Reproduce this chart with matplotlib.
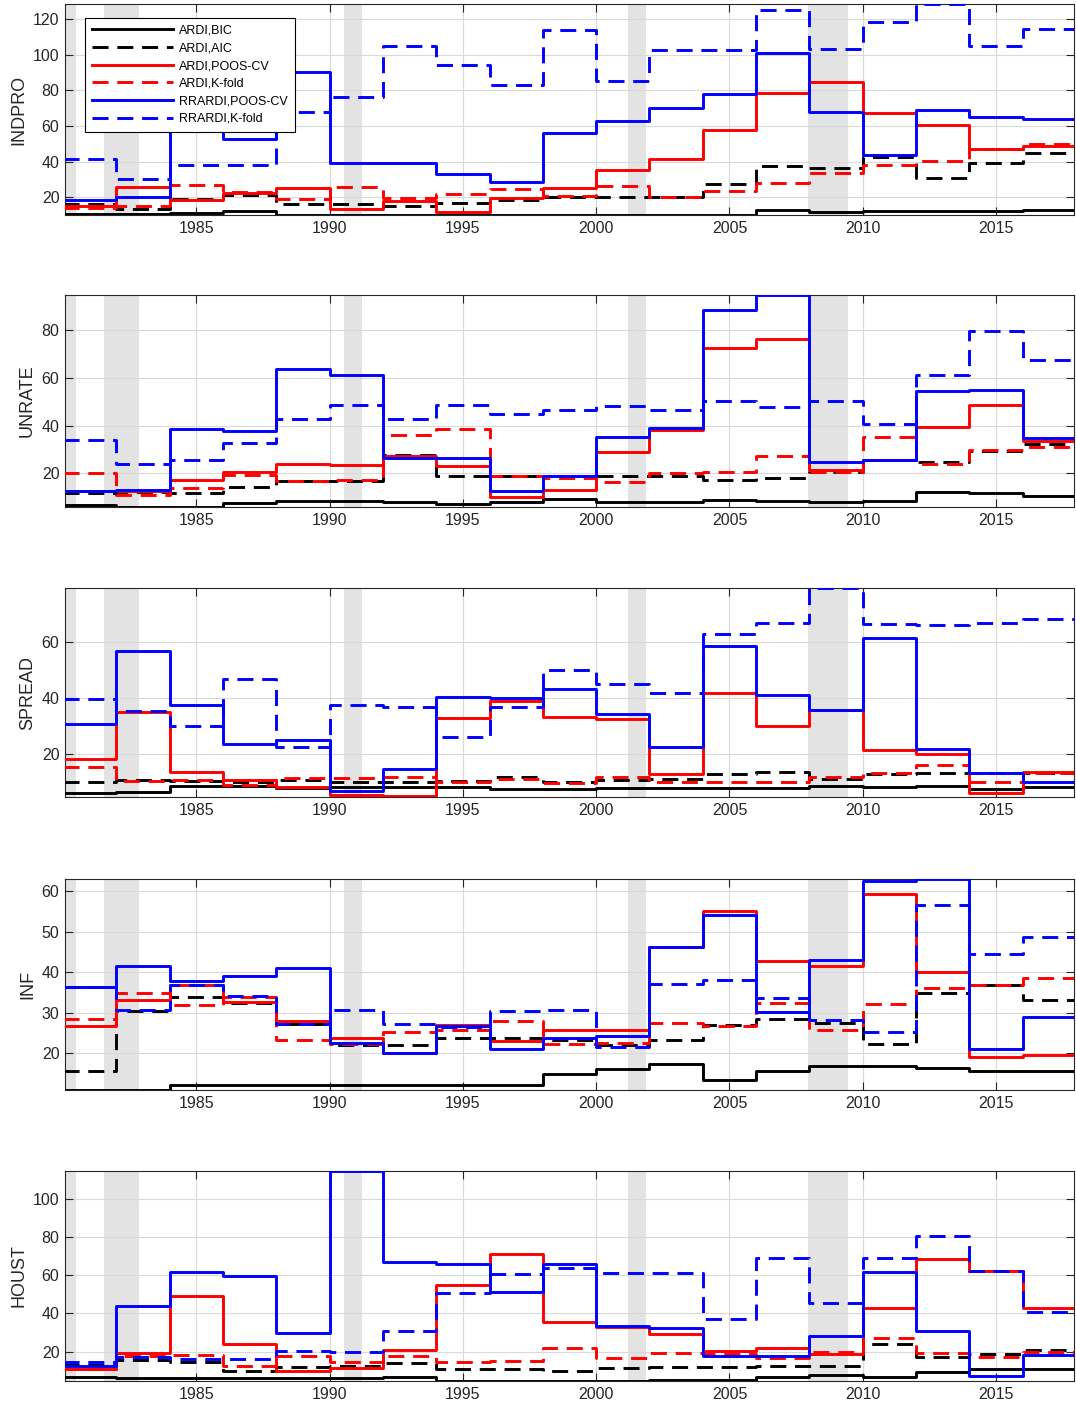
import numpy as np
import matplotlib.pyplot as plt

plt.rcParams['font.family'] = ['Liberation Sans', 'DejaVu Sans']

# block edges: models re-selected every two years
edges = np.arange(1980, 2020, 2)

series_names = ['ARDI,BIC', 'ARDI,AIC', 'ARDI,POOS-CV', 'ARDI,K-fold',
                'RRARDI,POOS-CV', 'RRARDI,K-fold']
panel_names = ['INDPRO', 'UNRATE', 'SPREAD', 'INF', 'HOUST']

# INDPRO
indpro_bic = [10.5, 10.5, 11.0, 12.5, 10.1, 10.1, 10.1, 10.1, 10.1, 10.1, 10.1, 10.1, 10.1, 13.0, 11.5, 12.0, 12.0, 12.0, 12.8]
indpro_aic = [16, 13.5, 19, 21.5, 16, 16, 15, 16.5, 18.5, 20, 20, 20, 27.5, 37.5, 36.5, 42.5, 31, 39, 45]
indpro_poos = [14.8, 25.6, 18.5, 22.5, 25, 13.5, 18, 11.8, 19.5, 25, 35, 41.5, 58, 78.5, 84.5, 67.5, 60.5, 47, 48.5]
indpro_kf = [14, 14.8, 27, 23, 19, 26, 19.5, 21.8, 24.5, 20.4, 26.4, 20, 23.5, 28, 33.5, 38, 40.5, 47.3, 49.8]
indpro_rr_poos = [18.5, 20, 75, 52.5, 90.5, 39, 39.4, 33, 28.8, 56.3, 63, 70.3, 78, 101, 68, 43.7, 69, 65.2, 64]
indpro_rr_kf = [41.5, 30, 38, 38, 68, 76.4, 105, 94, 83, 113.8, 85.2, 102.6, 102.6, 125.4, 103.5, 118.5, 128.4, 105, 114.4]

# UNRATE
unrate_bic = [6.6, 5.9, 5.9, 7.3, 8.3, 8.3, 7.7, 7.1, 7.7, 9, 8, 8, 8.7, 8.4, 8, 8.4, 12.3, 11.7, 10.3]
unrate_aic = [11.5, 12.2, 11.8, 14.3, 16.8, 16.8, 27.8, 18.7, 18.7, 18.7, 18.7, 18.7, 17, 18, 20.3, 25.5, 24.6, 29.1, 32.4]
unrate_poos = [12.4, 12.4, 17.3, 20.5, 24, 23.6, 27.4, 23, 10, 13.1, 29, 38.3, 72.7, 76.5, 21.5, 25.7, 39.4, 48.8, 33.6]
unrate_kf = [20.1, 10.8, 13.6, 19.2, 16.8, 17.3, 36.2, 38.7, 18.7, 17.8, 16.4, 20.1, 20.5, 27.1, 20.5, 35.2, 24, 29.9, 31]
unrate_rr_poos = [12.4, 13.1, 38.7, 37.8, 63.6, 61.4, 26.4, 26.4, 12.4, 18.7, 35.2, 39, 88.4, 94.7, 24.8, 25.5, 54.4, 54.8, 34.8]
unrate_rr_kf = [33.8, 24, 25.5, 32.7, 42.9, 48.5, 42.9, 48.5, 45, 46.7, 48.3, 46.4, 50.2, 47.6, 50.2, 40.8, 61.1, 79.7, 67.7]

# SPREAD
spread_bic = [6, 6.5, 8.6, 8.6, 7.7, 8.1, 8.3, 8.1, 7.4, 7.4, 7.7, 7.7, 7.7, 7.7, 8.6, 8.1, 8.6, 7.4, 8.1]
spread_aic = [9.9, 10.7, 10.4, 10.1, 10.7, 9.8, 9.9, 10.4, 11.9, 10.1, 10.7, 11, 12.7, 13.5, 11, 12.9, 13.1, 13.1, 13.3]
spread_poos = [18.1, 35.1, 13.5, 10.7, 8.1, 5.4, 4.8, 33, 39, 33.3, 32.4, 12.9, 41.7, 30, 35.7, 21.4, 19.9, 6, 13.7]
spread_kf = [15.2, 10.4, 10.5, 8.9, 11.3, 11.3, 11.7, 10.1, 11, 9.5, 11.9, 10.1, 9.8, 9.8, 11.9, 13.1, 16.1, 10.1, 13.3]
spread_rr_poos = [30.7, 56.9, 37.5, 23.5, 25, 6.9, 14.6, 40.2, 40, 43.1, 34.3, 22.3, 58.6, 41.1, 35.7, 61.3, 21.7, 13.3, 10.1]
spread_rr_kf = [39.5, 35.4, 30, 46.8, 22.6, 37.5, 36.9, 26, 36.9, 50, 44.9, 41.7, 62.7, 66.7, 79.2, 66.4, 66.1, 66.9, 68.1]

# INF
inf_bic = [11, 11, 12.2, 12.2, 12.2, 12.2, 12.2, 12.2, 12.2, 14.9, 16.1, 17.4, 13.4, 15.6, 16.9, 17, 16.3, 15.7, 15.7]
inf_aic = [15.7, 30.5, 33.8, 32.5, 27.2, 22.2, 22.2, 23.7, 23.7, 23.3, 22.2, 23.4, 27.1, 28.6, 27.5, 22.3, 34.9, 36.8, 33.1]
inf_poos = [26.7, 33.3, 36.8, 32.7, 28, 23.9, 20.2, 27, 23, 25.9, 25.9, 46.3, 55.2, 42.8, 41.6, 59.4, 40, 19.2, 19.7]
inf_kf = [28.4, 34.8, 31.9, 33.8, 23.3, 22.3, 25.3, 25.7, 28, 22.4, 22.5, 27.5, 26.7, 32.5, 25.9, 32.1, 36.2, 36.8, 38.5]
inf_rr_poos = [36.3, 41.6, 37.8, 39, 41, 22.7, 20, 26.7, 21, 23.7, 24.3, 46.3, 54.1, 30.1, 43, 62.5, 63, 21.2, 29]
inf_rr_kf = [36.3, 30.7, 36.8, 34.2, 27.2, 30.8, 27.2, 26.6, 30.5, 30.7, 21.6, 37.2, 38.1, 33.7, 28.2, 25.3, 56.5, 44.4, 48.7]

# HOUST
houst_bic = [6.7, 6.2, 6.2, 6.2, 6.2, 6.3, 7, 4.8, 4.8, 4.8, 4.8, 5.2, 5.2, 6.6, 7.8, 6.8, 9.6, 11, 11]
houst_aic = [13, 15.5, 14.4, 9.7, 12, 12.5, 14, 11, 11, 10.1, 11.3, 12.2, 12.2, 12.5, 12.5, 24, 17.1, 18.8, 20.9]
houst_poos = [10.9, 19.3, 49, 23.8, 9.9, 11.5, 21, 55, 71, 35.4, 33.1, 29.1, 20.6, 22.1, 18.6, 42.7, 68.5, 62.2, 43]
houst_kf = [11, 17.9, 18.4, 12.7, 17.9, 14.5, 18, 14.5, 15, 22.1, 16.6, 19.2, 18.6, 16.6, 19.7, 27.4, 19.2, 17.4, 20]
houst_rr_poos = [12.8, 44, 61.7, 59.4, 29.8, 114.4, 67, 66, 51, 65.7, 33.4, 32.2, 17.8, 17.8, 28.4, 61.5, 31, 7.5, 18.3]
houst_rr_kf = [14.4, 17.2, 16.2, 16.2, 20.5, 20, 31, 50.5, 60.5, 63.6, 61, 61, 37.1, 69.2, 45.3, 69.2, 80.5, 62.2, 41]

panel_data = [
    [indpro_bic, indpro_aic, indpro_poos, indpro_kf, indpro_rr_poos, indpro_rr_kf],
    [unrate_bic, unrate_aic, unrate_poos, unrate_kf, unrate_rr_poos, unrate_rr_kf],
    [spread_bic, spread_aic, spread_poos, spread_kf, spread_rr_poos, spread_rr_kf],
    [inf_bic, inf_aic, inf_poos, inf_kf, inf_rr_poos, inf_rr_kf],
    [houst_bic, houst_aic, houst_poos, houst_kf, houst_rr_poos, houst_rr_kf],
]

ylims = [(10, 128.5), (5.8, 94.8), (4.6, 79.3), (11, 63), (4.7, 114.5)]
yticks = [np.arange(20, 121, 20), np.arange(20, 81, 20), np.arange(20, 61, 20),
          np.arange(20, 61, 10), np.arange(20, 101, 20)]

# NBER recessions (year fractions)
recessions = [(1979.9, 1980.5), (1981.54, 1982.87), (1990.55, 1991.2),
              (2001.21, 2001.86), (2007.96, 2009.44)]

styles = [('k', '-'), ('k', '--'), ('r', '-'), ('r', '--'), ('b', '-'), ('b', '--')]

W, H = 1076, 1409
fig = plt.figure(figsize=(W / 100, H / 100), dpi=100)

tops = [4, 295, 588, 879, 1171]
bots = [215, 507, 797, 1090, 1381]
left, right = 65, 1074
dark = '#262626'

for i in range(5):
    ax = fig.add_axes([left / W, 1 - bots[i] / H, (right - left) / W, (bots[i] - tops[i]) / H])
    for r0, r1 in recessions:
        ax.axvspan(r0, r1, color='#e3e3e3', lw=0, zorder=0)
    for vals, (c, ls), name in zip(panel_data[i], styles, series_names):
        y = list(vals) + [vals[-1]]
        line, = ax.plot(edges, y, drawstyle='steps-post', color=c, ls=ls, lw=2.1,
                        label=name, zorder=3)
        if ls == '--':
            line.set_dashes([5.5, 3])
    ax.set_xlim(1980.08, 2017.92)
    ax.set_ylim(*ylims[i])
    ax.set_xticks(np.arange(1985, 2016, 5))
    ax.set_yticks(yticks[i])
    ax.grid(True, color='#d9d9d9', lw=0.8, zorder=1)
    ax.set_axisbelow(True)
    ax.tick_params(direction='in', top=True, right=True, length=6, width=0.8,
                   labelsize=11.5, colors=dark, pad=4)
    for sp in ax.spines.values():
        sp.set_color(dark)
        sp.set_linewidth(0.8)
    ax.set_ylabel(panel_names[i], fontsize=13, color=dark, labelpad=4)
    if i == 0:
        leg = ax.legend(loc='upper left', bbox_to_anchor=(0.0195, 0.934), fontsize=9,
                        handlelength=6.5, handletextpad=0.5, labelspacing=0.45,
                        borderpad=0.55, borderaxespad=0, fancybox=False, framealpha=1,
                        edgecolor='k')
        leg.get_frame().set_linewidth(0.8)
        leg.set_zorder(5)

fig.savefig('out.png', dpi=100)
